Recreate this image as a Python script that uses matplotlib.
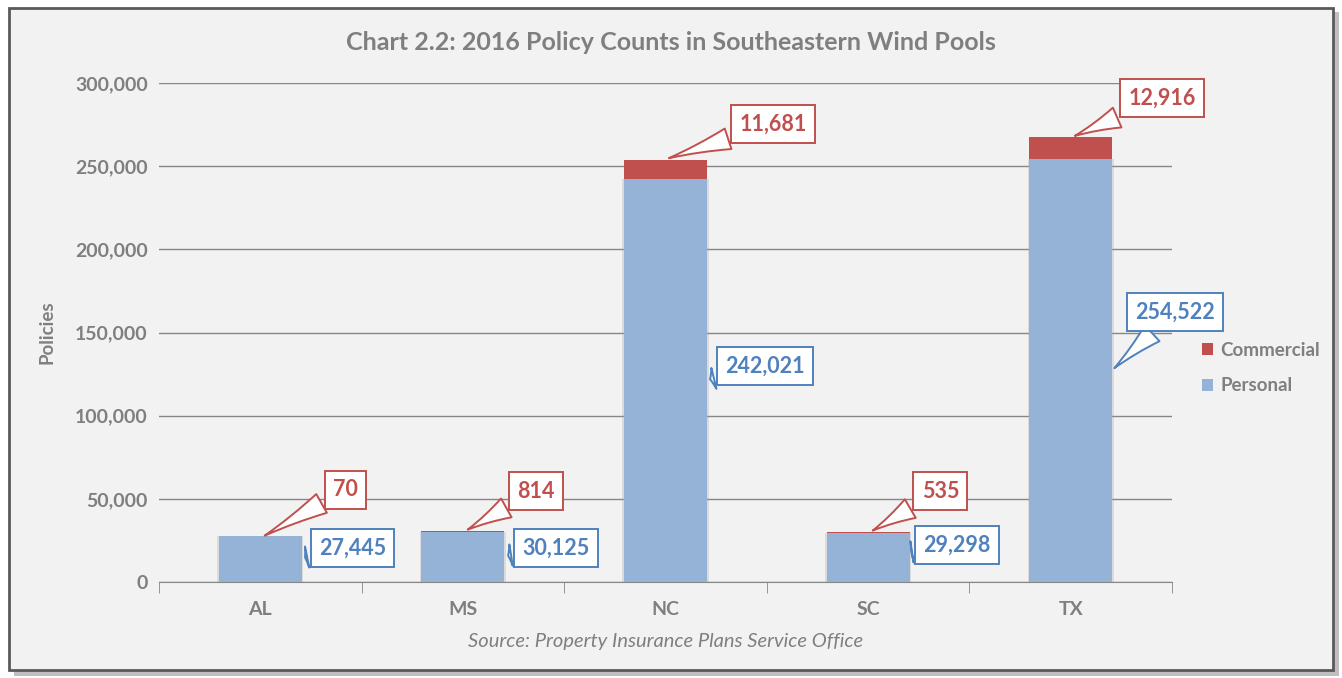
import matplotlib
matplotlib.use("Agg")
import matplotlib.pyplot as plt
from matplotlib.patches import Rectangle
import numpy as np

plt.rcParams['font.family'] = ['Lato', 'DejaVu Sans']

states = ["AL", "MS", "NC", "SC", "TX"]
personal = [27445, 30125, 242021, 29298, 254522]
commercial = [70, 814, 11681, 535, 12916]
yticks = [0, 50000, 100000, 150000, 200000, 250000, 300000]

title = "Chart 2.2: 2016 Policy Counts in Southeastern Wind Pools"
source = "Source: Property Insurance Plans Service Office"

BLUE = "#95B3D7"
RED = "#C0504D"
BLUE_T = "#4F81BD"
GRAY = "#7F7F7F"
BG = "#F2F2F2"

fig = plt.figure(figsize=(13.42, 6.78), dpi=100)
fig.patch.set_facecolor("white")
# chart frame with shadow
fig.patches.append(Rectangle((14/1342, 1-676/678), 1325/1342, 664/678, transform=fig.transFigure,
                             facecolor="#BFBFBF", edgecolor="none", zorder=-2))
fig.patches.append(Rectangle((9/1342, 1-670/678), 1324/1342, 662/678, transform=fig.transFigure,
                             facecolor=BG, edgecolor="#595959", linewidth=2.0, zorder=-1))

ax = fig.add_axes([159/1342, 1-582/678, (1172-159)/1342, (582-83)/678])
ax.set_zorder(2)
ax.set_facecolor("none")
x = np.arange(len(states))
w = 0.41
ax.bar(x, personal, w + 0.016, color="#A6A6A6", alpha=0.3, zorder=1)
ax.bar(x, personal, w, color=BLUE, zorder=2, label="Personal")
ax.bar(x, commercial, w, bottom=personal, color=RED, zorder=2, label="Commercial")

ax.set_xlim(-0.5, len(states) - 0.5)
ax.set_ylim(0, 300000)
ax.set_yticks(yticks)
ax.set_yticklabels([f"{v:,}" for v in yticks])
ax.yaxis.grid(True, color="#868686", linewidth=1.0, zorder=0)
ax.set_axisbelow(True)
ax.set_xticks(x)
ax.set_xticklabels(states)
ax.set_xticks(np.arange(-0.5, len(states)), minor=True)
ax.tick_params(axis="x", which="major", length=0, pad=14)
ax.tick_params(axis="x", which="minor", length=8, color="#868686")
ax.tick_params(axis="y", length=0, pad=8)
for lab in ax.get_xticklabels() + ax.get_yticklabels():
    lab.set_color(GRAY)
    lab.set_fontweight("bold")
    lab.set_fontsize(14)
for s in ["top", "right", "left"]:
    ax.spines[s].set_visible(False)
ax.spines["bottom"].set_color("#868686")
ax.set_ylabel("Policies", color=GRAY, fontweight="bold", fontsize=13.5, labelpad=14)

fig.text(0.5, 1-42/678, title, ha="center", va="center", fontsize=18,
         fontweight="bold", color=GRAY)
fig.text(666/1342, 1-642/678, source, ha="center", va="center", fontsize=14.5,
         style="italic", color=GRAY)

# data label positions (pixels in reference), converted to data coordinates
def px2data(px, py):
    xd = (px - 260) / 202.6
    yd = (582 - py) / 499 * 300000
    return xd, yd

com_label_px = [(345, 490), (536, 491), (773, 124), (940, 491), (1162, 98)]
com_tip_px = [(262, 537), (465, 531), (666, 159), (870, 532), (1072, 137)]
per_label_px = [(352, 548), (556, 548), (765, 366), (957, 545), (1175, 312)]
per_tip_px = [(302, 558), (505, 556), (707, 380), (911, 552), (1112, 370)]

for i in range(len(states)):
    for val, lpx, tpx, col in [(commercial[i], com_label_px[i], com_tip_px[i], RED),
                               (personal[i], per_label_px[i], per_tip_px[i], BLUE_T)]:
        ax.annotate(f"{val:,}", xy=px2data(*tpx), xytext=px2data(*lpx),
                    ha="center", va="center", fontsize=15.5, fontweight="bold", color=col,
                    bbox=dict(boxstyle="square,pad=0.38", facecolor="white", edgecolor=col, linewidth=1.4),
                    arrowprops=dict(arrowstyle="wedge,tail_width=1.0,shrink_factor=0.4",
                                    facecolor="white", edgecolor=col, linewidth=1.4),
                    zorder=5, annotation_clip=False)

h, l = ax.get_legend_handles_labels()
leg = fig.legend(h[::-1], l[::-1], loc="center left", bbox_to_anchor=(1185/1342, 1-368/678),
                 frameon=False, fontsize=13.5, handlelength=0.6, handleheight=0.6,
                 handletextpad=0.4, labelspacing=1.0)
for t in leg.get_texts():
    t.set_color(GRAY)
    t.set_fontweight("bold")

fig.savefig("out.png", dpi=100, facecolor=fig.get_facecolor())
